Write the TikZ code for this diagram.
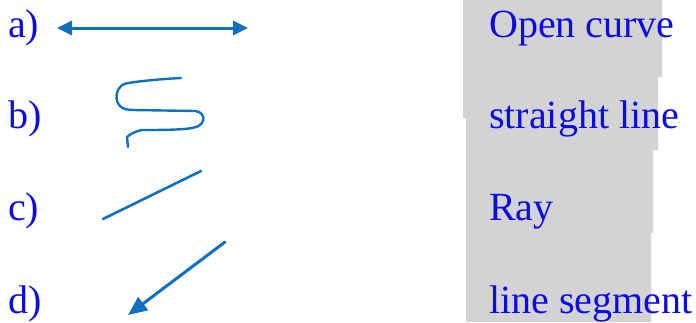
\documentclass[tikz,border=0pt]{standalone}
\usepackage{fontspec}
\setmainfont{Liberation Serif}
\usetikzlibrary{arrows.meta}
\definecolor{labelblue}{RGB}{12,12,225}
\definecolor{lineblue}{RGB}{16,112,192}
\definecolor{stripgray}{RGB}{211,211,211}

\begin{document}
\begin{tikzpicture}[x=1pt, y=-1pt,
    every node/.style={inner sep=0pt, anchor=base west, text=labelblue, font=\fontsize{40}{40}\selectfont},
    stroke/.style={draw=lineblue, line cap=round, line join=round},
    bigtip/.style={{Triangle[length=15pt, width=14pt]}-{Triangle[length=15pt, width=14pt]}},
    endtip/.style={-{Triangle[length=19pt, width=16pt]}}]
    \useasboundingbox (0,0) rectangle (696,322);
    % grey strip behind the names
    \fill[stripgray] (463,0) -- (662,0) -- (662,77) -- (658,77) -- (658,150) -- (653,150) -- (653,233) -- (651,233) -- (651,322) -- (466,322) -- (466,118) -- (463,118) -- cycle;
    % letters
    \node (la) at (8,37) {a)};
    \node (lb) at (8,128) {b)};
    \node (lc) at (8,220) {c)};
    \node (ld) at (8,313) {d)};
    % names
    \node (na) at (489,37) {Open curve};
    \node (nb) at (489,128) {straight line};
    \node (nc) at (489,220) {Ray};
    \node (nd) at (489,313) {line segment};
    % figures
    \coordinate (a1) at (57,28);
    \coordinate (a2) at (248,28);
    \coordinate (b1) at (181,78);
    \coordinate (b2) at (128,147);
    \coordinate (c1) at (103,219);
    \coordinate (c2) at (201,171);
    \coordinate (d1) at (225,242);
    \coordinate (d2) at (128,315);
    \draw[stroke, line width=3pt, bigtip] (a1) -- (a2);
    \draw[stroke, line width=2.4pt] (b1) .. controls (160,79) and (130,82) .. (124,84)
        .. controls (116,88) and (114,100) .. (120,106)
        .. controls (123,109) and (127,110) .. (134,110) -- (195,111)
        .. controls (206,112) and (206,124) .. (196,127)
        .. controls (188,130) and (160,130) .. (142,130)
        .. controls (136,131) and (130,134) .. (127,137) -- (b2);
    \draw[stroke, line width=2.6pt] (c1) -- (c2);
    \draw[stroke, line width=3pt, endtip] (d1) -- (d2);
\end{tikzpicture}
\end{document}
